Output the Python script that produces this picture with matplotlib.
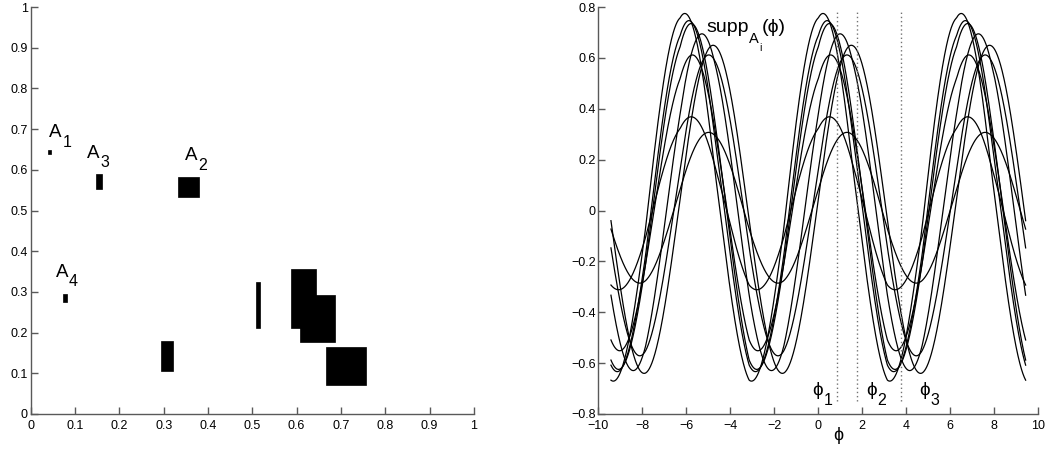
import numpy as np
import matplotlib
matplotlib.use("Agg")
import matplotlib.pyplot as plt
from matplotlib.patches import Rectangle
from matplotlib.transforms import offset_copy

plt.rcParams['font.family'] = ['Liberation Sans', 'DejaVu Sans']

# Rectangles A (x0, x1, y0, y1)
rect_x0 = [0.040, 0.147, 0.333, 0.073, 0.293, 0.509, 0.588, 0.608, 0.667]
rect_x1 = [0.045, 0.161, 0.379, 0.082, 0.322, 0.518, 0.643, 0.687, 0.757]
rect_y0 = [0.639, 0.552, 0.534, 0.276, 0.106, 0.212, 0.211, 0.178, 0.071]
rect_y1 = [0.648, 0.590, 0.582, 0.296, 0.179, 0.325, 0.356, 0.292, 0.164]

label_main = ['A', 'A', 'A', 'A']
label_sub = ['1', '3', '2', '4']
label_x = [0.042, 0.128, 0.348, 0.057]
label_y = [0.680, 0.630, 0.624, 0.337]

phi_marks = [0.84, 1.77, 3.76]
phi_sub = ['1', '2', '3']
phi_label_x = [-0.26, 2.17, 4.59]

PHI = '\u03d5'
W, H = 1053, 457
fig = plt.figure(figsize=(W / 100, H / 100), dpi=100)
axc = (0.35, 0.35, 0.35)
fig.canvas.draw()
renderer = fig.canvas.get_renderer()


def style(ax):
    for s in ['top', 'right']:
        ax.spines[s].set_visible(False)
    for s in ['left', 'bottom']:
        ax.spines[s].set_color(axc)
        ax.spines[s].set_linewidth(1.0)
    ax.tick_params(direction='in', length=5, width=1.0, color=axc, labelsize=9)
    ax.tick_params(axis='x', pad=4)
    ax.tick_params(axis='y', pad=2)


def rich_text(ax, x, y, parts):
    """parts: list of (string, fontsize, drop in pixels)."""
    dx = 0.0
    for txt, size, drop in parts:
        tr = offset_copy(ax.transData, fig=fig, x=dx, y=-drop, units='dots')
        t = ax.text(x, y, txt, fontsize=size, ha='left', va='baseline', transform=tr)
        bb = t.get_window_extent(renderer)
        dx += bb.width + 0.5


# Left panel
ax1 = fig.add_axes([30.7 / W, 43 / H, 443.3 / W, 407 / H])
for x0, x1, y0, y1 in zip(rect_x0, rect_x1, rect_y0, rect_y1):
    ax1.add_patch(Rectangle((x0, y0), x1 - x0, y1 - y0, facecolor='black', edgecolor='black', lw=0.5))
ax1.set_xlim(0, 1)
ax1.set_ylim(0, 1)
for m, sb, x, y in zip(label_main, label_sub, label_x, label_y):
    rich_text(ax1, x, y, [(m, 13.5, 0), (sb, 11.5, 9.5)])
ticks = np.round(np.arange(0, 1.01, 0.1), 1)
tl = ['0'] + ['%.1f' % v for v in ticks[1:-1]] + ['1']
ax1.set_xticks(ticks)
ax1.set_xticklabels(tl)
ax1.set_yticks(ticks)
ax1.set_yticklabels(tl)
style(ax1)

# Right panel: support functions of the rectangles
ax2 = fig.add_axes([598.3 / W, 43 / H, 440 / W, 407 / H])
ax2.set_xlim(-10, 10)
ax2.set_ylim(-0.8, 0.8)
phi = np.linspace(-3 * np.pi, 3 * np.pi, 1500)
c, s = np.cos(phi), np.sin(phi)
for x0, x1, y0, y1 in zip(rect_x0, rect_x1, rect_y0, rect_y1):
    h = np.max([x0 * c + y0 * s, x1 * c + y0 * s, x0 * c + y1 * s, x1 * c + y1 * s], axis=0)
    ax2.plot(phi, h, color='black', lw=0.9)
for p in phi_marks:
    ax2.plot([p, p], [-0.75, 0.78], color=(0.45, 0.45, 0.45), lw=1.0, linestyle=(0, (1, 2)))
for sb, x in zip(phi_sub, phi_label_x):
    rich_text(ax2, x, -0.727, [(PHI, 13.5, 0), (sb, 11.5, 9.5)])
rich_text(ax2, -5.1, 0.70, [('supp', 14, 0), ('A', 10.5, 11), ('i', 7.5, 18.5), ('(' + PHI + ')', 14, 0)])
ax2.set_xticks(np.arange(-10, 11, 2))
ax2.set_xticklabels([('\u2212%d' % -v) if v < 0 else '%d' % v for v in range(-10, 11, 2)])
yt = np.round(np.arange(-0.8, 0.81, 0.2), 1)
ax2.set_yticks(yt)
ax2.set_yticklabels([('0' if abs(v) < 1e-9 else ('\u2212%.1f' % -v if v < 0 else '%.1f' % v)) for v in yt])
ax2.text(0.9, -0.85, PHI, fontsize=13, ha='center', va='top')
style(ax2)

fig.savefig('out.png', dpi=100)
